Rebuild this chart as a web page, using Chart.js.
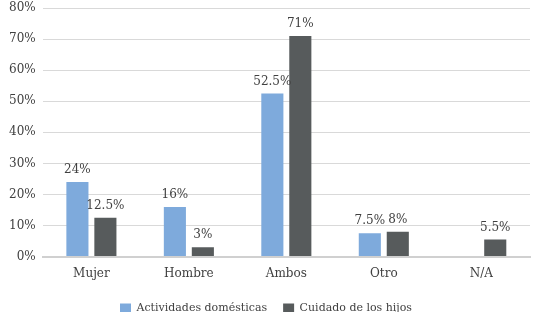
<!DOCTYPE html>
<html>
<head>
<meta charset="utf-8">
<script src="https://cdn.jsdelivr.net/npm/chart.js@4"></script>
<style>
  html, body { margin: 0; padding: 0; background: #fff; }
  #wrap { width: 534px; height: 316px; }
</style>
</head>
<body>
<div id="wrap"><canvas id="chart"></canvas></div>
<script>
const categories = ["Mujer", "Hombre", "Ambos", "Otro", "N/A"];
const domesticas = [24, 16, 52.5, 7.5, null];
const hijos = [12.5, 3, 71, 8, 5.5];
const seriesNames = ["Actividades domésticas", "Cuidado de los hijos"];

const FONT = "'DejaVu Serif', serif";

// draws value labels on top of each bar
const valueLabels = {
  id: "valueLabels",
  afterDatasetsDraw(chart) {
    const ctx = chart.ctx;
    ctx.save();
    ctx.font = "12px " + FONT;
    ctx.fillStyle = "#404040";
    ctx.textAlign = "center";
    ctx.textBaseline = "bottom";
    chart.data.datasets.forEach((ds, i) => {
      chart.getDatasetMeta(i).data.forEach((bar, j) => {
        const v = ds.data[j];
        if (v === null || v === undefined) return;
        ctx.fillText(v + "%", bar.x, bar.y - 6);
      });
    });
    ctx.restore();
  }
};

// legend: keep the wide gap between items but not the tall box
const legendTweak = {
  id: "legendTweak",
  afterInit(chart) {
    const lg = chart.legend;
    if (!lg) return;
    const fit = lg.fit.bind(lg);
    lg.fit = function () {
      fit();
      this.height = 25;
    };
  },
  afterLayout(chart) {
    const lg = chart.legend;
    if (!lg) return;
    lg.top -= 4;
    lg.bottom -= 4;
  }
};

const chart = new Chart(document.getElementById("chart"), {
  type: "bar",
  data: {
    labels: categories,
    datasets: [
      { label: seriesNames[0], data: domesticas, backgroundColor: "#7eaadc" },
      { label: seriesNames[1], data: hijos, backgroundColor: "#575b5c" }
    ]
  },
  options: {
    responsive: true,
    maintainAspectRatio: false,
    animation: false,
    layout: { padding: { top: 0, right: 4, left: 2, bottom: 0 } },
    datasets: {
      bar: { categoryPercentage: 0.574, barPercentage: 0.79 }
    },
    scales: {
      x: {
        grid: { display: false, drawTicks: false },
        border: { color: "#d0d0d0", width: 2 },
        ticks: { color: "#404040", font: { family: FONT, size: 12 }, padding: 10 }
      },
      y: {
        min: 0,
        max: 80,
        grid: { color: "#d9d9d9", drawTicks: false },
        border: { display: false },
        afterFit: s => { s.paddingTop = 8; },
        ticks: {
          stepSize: 10,
          color: "#404040",
          padding: 7,
          font: { family: FONT, size: 12 },
          callback: v => v + "%"
        }
      }
    },
    plugins: {
      legend: {
        position: "bottom",
        labels: {
          boxWidth: 11,
          boxHeight: 10,
          padding: 16,
          color: "#404040",
          font: { family: FONT, size: 11 }
        }
      },
      tooltip: { enabled: false }
    }
  },
  plugins: [valueLabels, legendTweak]
});
</script>
</body>
</html>
